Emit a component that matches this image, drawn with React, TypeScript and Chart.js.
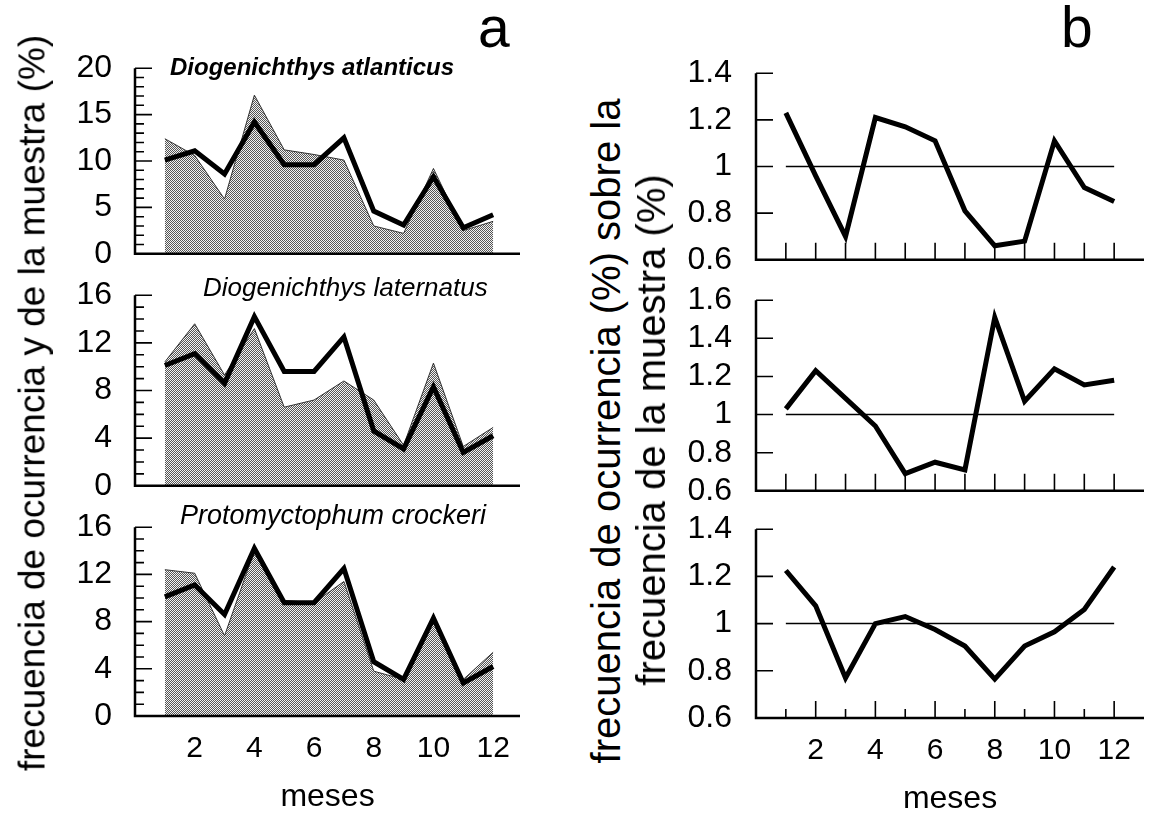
import React, { useEffect, useRef } from "react";
import { Chart, registerables } from "chart.js";

Chart.register(...registerables);

const FONT = "'Liberation Sans', Arial, Helvetica, sans-serif";

// ---------- data ----------
const months = [1, 2, 3, 4, 5, 6, 7, 8, 9, 10, 11, 12];
const monthTickLabels = [2, 4, 6, 8, 10, 12];

// frecuencia de la muestra (%) – thick line, same in the three panels of (a)
const sampleFreq = [10.1, 11.1, 8.6, 14.2, 9.6, 9.6, 12.5, 4.6, 3.1, 8.3, 2.8, 4.2];

// frecuencia de ocurrencia (%) – shaded areas in (a)
const occAtlanticus = [12.4, 10.6, 5.9, 17.1, 11.2, 10.7, 10.1, 3.0, 2.2, 9.2, 2.5, 3.5];
const occLaternatus = [10.4, 13.6, 9.3, 13.2, 6.6, 7.2, 8.8, 7.2, 3.4, 10.3, 3.3, 4.9];
const occCrockeri = [12.4, 12.1, 6.8, 14.0, 9.8, 9.6, 11.4, 3.8, 3.1, 8.1, 3.1, 5.4];

// ratio ocurrencia / muestra – panels (b)
const ratioAtlanticus = [1.23, 0.96, 0.7, 1.21, 1.17, 1.11, 0.81, 0.66, 0.68, 1.11, 0.91, 0.85];
const ratioLaternatus = [1.03, 1.23, 1.085, 0.94, 0.69, 0.75, 0.71, 1.51, 1.07, 1.24, 1.155, 1.18];
const ratioCrockeri = [1.225, 1.075, 0.77, 1.0, 1.03, 0.975, 0.905, 0.765, 0.905, 0.965, 1.06, 1.24];

const refLevel = [1, 1];

const yTicksA1 = [0, 5, 10, 15, 20];
const yTicksA23 = [0, 4, 8, 12, 16];
const yTicksB13 = [0.6, 0.8, 1, 1.2, 1.4];
const yTicksB2 = [0.6, 0.8, 1, 1.2, 1.4, 1.6];

const speciesNames = ["Diogenichthys atlanticus", "Diogenichthys laternatus", "Protomyctophum crockeri"];
const yTitleA = "frecuencia de ocurrencia y de la muestra (%)";
const yTitleB1 = "frecuencia de ocurrencia (%) sobre la";
const yTitleB2 = "frecuencia de la muestra (%)";
const xTitle = "meses";

// ---------- plugin drawing inward ticks and axis lines ----------
const framePlugin = {
  id: "frame",
  afterDatasetsDraw(chart: any, _args: any, opts: any) {
    const { ctx, chartArea } = chart;
    const { left, right, top, bottom } = chartArea;
    const xs = chart.scales.x;
    const ys = chart.scales.y;
    ctx.save();
    ctx.strokeStyle = "#000";
    ctx.lineCap = "butt";
    ctx.lineWidth = 2.5;
    ctx.beginPath();
    ctx.moveTo(left, top);
    ctx.lineTo(left, bottom);
    ctx.lineTo(right, bottom);
    ctx.stroke();
    ctx.lineWidth = 1.6;
    ctx.beginPath();
    for (const v of opts.major) {
      const py = ys.getPixelForValue(v);
      ctx.moveTo(left, py);
      ctx.lineTo(left + opts.majorLen, py);
    }
    if (opts.minorStep) {
      for (let k = 0; ; k++) {
        const v = ys.min + k * opts.minorStep;
        if (v > ys.max + 1e-9) break;
        const py = ys.getPixelForValue(v);
        ctx.moveTo(left, py);
        ctx.lineTo(left + opts.minorLen, py);
      }
    }
    if (opts.xMarks) {
      for (const m of opts.xMarks) {
        const px = xs.getPixelForValue(m);
        const len = opts.altTicks && m % 2 === 1 ? opts.xShortLen : opts.xLen;
        ctx.moveTo(px, bottom);
        ctx.lineTo(px, bottom - len);
      }
    }
    ctx.stroke();
    ctx.restore();
  },
};

type Spec = {
  kind: "a" | "b";
  chartLeft: number;
  chartRight: number;
  chartTop: number;
  chartBottom: number;
  yAxisW: number;
  yPad: number;
  xMax: number;
  yMin: number;
  yMax: number;
  yTicks: number[];
  bottom: boolean;
  area?: number[];
  line: number[];
  minorStep?: number;
  altTicks?: boolean;
};

const Y_FONT = 32;
const X_AXIS_H = 100;
const PAD_RIGHT = 12;
const PAD_BOTTOM_LAST = 5;

function geometry(s: Spec) {
  const off = Math.round(Y_FONT * 0.6 + s.yPad);
  const x = s.chartLeft - s.yAxisW;
  const w = s.yAxisW + (s.chartRight - s.chartLeft) + PAD_RIGHT;
  const y = s.chartTop - off;
  const h = s.bottom
    ? off + (s.chartBottom - s.chartTop) + X_AXIS_H + PAD_BOTTOM_LAST
    : off + (s.chartBottom - s.chartTop) + off;
  return { x, y, w, h };
}

function makePattern(): CanvasPattern | string {
  const c = document.createElement("canvas");
  c.width = 4;
  c.height = 4;
  const g = c.getContext("2d");
  if (!g) return "#999";
  g.fillStyle = "#f2f2f2";
  g.fillRect(0, 0, 4, 4);
  g.fillStyle = "#555555";
  for (let yy = 0; yy < 4; yy++) {
    for (let xx = 0; xx < 4; xx++) {
      if ((xx + yy) % 2 === 0) g.fillRect(xx, yy, 1, 1);
    }
  }
  const p = g.createPattern(c, "repeat");
  return p || "#999";
}

function buildConfig(s: Spec): any {
  const datasets: any[] = [];
  datasets.push({
    data: months.map((m, i) => ({ x: m, y: s.line[i] })),
    borderColor: "#000",
    borderWidth: 5,
    borderJoinStyle: "miter",
    pointRadius: 0,
    fill: false,
    tension: 0,
    order: 0,
  });
  if (s.kind === "a") {
    datasets.push({
      data: months.map((m, i) => ({ x: m, y: (s.area as number[])[i] })),
      borderColor: "#333",
      borderWidth: 1,
      backgroundColor: makePattern(),
      fill: "origin",
      pointRadius: 0,
      tension: 0,
      order: 1,
    });
  } else {
    datasets.push({
      data: [
        { x: months[0], y: refLevel[0] },
        { x: months[months.length - 1], y: refLevel[1] },
      ],
      borderColor: "#000",
      borderWidth: 1.5,
      pointRadius: 0,
      fill: false,
      order: 1,
    });
  }

  return {
    type: "line",
    data: { datasets },
    plugins: [framePlugin],
    options: {
      animation: false,
      responsive: false,
      events: [],
      layout: { padding: { top: 0, bottom: s.bottom ? PAD_BOTTOM_LAST : 0, left: 0, right: PAD_RIGHT } },
      plugins: {
        legend: { display: false },
        tooltip: { enabled: false },
        frame: {
          major: s.yTicks,
          majorLen: 17,
          minorStep: s.minorStep,
          minorLen: 9,
          xMarks: s.kind === "b" ? months : null,
          xLen: 17,
          xShortLen: 9,
          altTicks: !!s.altTicks,
        },
      },
      scales: {
        x: {
          type: "linear",
          min: 0,
          max: s.xMax,
          display: s.bottom,
          grid: { display: false, drawTicks: false, tickLength: 0 },
          border: { display: false },
          ticks: {
            font: { family: FONT, size: 30 },
            color: "#000",
            padding: 15,
            autoSkip: false,
            maxRotation: 0,
            callback: (v: any) => String(v),
          },
          afterBuildTicks: (sc: any) => {
            sc.ticks = monthTickLabels.map((v) => ({ value: v }));
          },
          afterFit: (sc: any) => {
            sc.height = s.bottom ? X_AXIS_H : 0;
          },
          title: {
            display: true,
            text: xTitle,
            font: { family: FONT, size: 32 },
            color: "#000",
            padding: { top: 0, bottom: 0 },
          },
        },
        y: {
          type: "linear",
          min: s.yMin,
          max: s.yMax,
          grid: { display: false, drawTicks: false, tickLength: 0 },
          border: { display: false },
          ticks: {
            font: { family: FONT, size: Y_FONT },
            color: "#000",
            padding: s.yPad,
            autoSkip: false,
            callback: (v: any) => String(v),
          },
          afterBuildTicks: (sc: any) => {
            sc.ticks = s.yTicks.map((v) => ({ value: v }));
          },
          afterFit: (sc: any) => {
            sc.width = s.yAxisW;
          },
        },
      },
    },
  };
}

function Panel({ spec }: { spec: Spec }) {
  const ref = useRef<HTMLCanvasElement>(null);
  const g = geometry(spec);
  useEffect(() => {
    if (!ref.current) return;
    const chart = new Chart(ref.current, buildConfig(spec));
    return () => chart.destroy();
  }, []);
  return (
    <canvas
      ref={ref}
      width={g.w}
      height={g.h}
      style={{ position: "absolute", left: g.x, top: g.y, width: g.w, height: g.h }}
    />
  );
}

// layout (pixels) – not data
const specs: Spec[] = [
  {
    kind: "a", chartLeft: 135, chartRight: 520, chartTop: 68, chartBottom: 254, yAxisW: 95, yPad: 23,
    xMax: 12.9, yMin: 0, yMax: 20, yTicks: yTicksA1, bottom: false, area: occAtlanticus, line: sampleFreq, minorStep: 1,
  },
  {
    kind: "a", chartLeft: 135, chartRight: 520, chartTop: 295, chartBottom: 486, yAxisW: 95, yPad: 23,
    xMax: 12.9, yMin: 0, yMax: 16, yTicks: yTicksA23, bottom: false, area: occLaternatus, line: sampleFreq, minorStep: 1,
  },
  {
    kind: "a", chartLeft: 135, chartRight: 520, chartTop: 527, chartBottom: 716, yAxisW: 95, yPad: 23,
    xMax: 12.9, yMin: 0, yMax: 16, yTicks: yTicksA23, bottom: true, area: occCrockeri, line: sampleFreq, minorStep: 1,
  },
  {
    kind: "b", chartLeft: 756, chartRight: 1144, chartTop: 73, chartBottom: 260, yAxisW: 95, yPad: 24,
    xMax: 13, yMin: 0.6, yMax: 1.4, yTicks: yTicksB13, bottom: false, line: ratioAtlanticus,
  },
  {
    kind: "b", chartLeft: 756, chartRight: 1144, chartTop: 300, chartBottom: 491, yAxisW: 95, yPad: 24,
    xMax: 13, yMin: 0.6, yMax: 1.6, yTicks: yTicksB2, bottom: false, line: ratioLaternatus,
  },
  {
    kind: "b", chartLeft: 756, chartRight: 1144, chartTop: 529, chartBottom: 718, yAxisW: 95, yPad: 24,
    xMax: 13, yMin: 0.6, yMax: 1.4, yTicks: yTicksB13, bottom: true, line: ratioCrockeri, altTicks: true,
  },
];

function RotText({ text, cx, cy, size }: { text: string; cx: number; cy: number; size: number }) {
  return (
    <div
      style={{
        position: "absolute",
        left: cx,
        top: cy,
        transform: "translate(-50%, -50%) rotate(-90deg)",
        whiteSpace: "nowrap",
        fontFamily: FONT,
        fontSize: size,
        lineHeight: `${size}px`,
        color: "#000",
      }}
    >
      {text}
    </div>
  );
}

function Label({
  text, left, baseline, size, italic, bold,
}: { text: string; left: number; baseline: number; size: number; italic?: boolean; bold?: boolean }) {
  return (
    <div
      style={{
        position: "absolute",
        left,
        top: baseline - 0.8465 * size,
        whiteSpace: "nowrap",
        fontFamily: FONT,
        fontSize: size,
        lineHeight: `${size}px`,
        fontStyle: italic ? "italic" : "normal",
        fontWeight: bold ? 700 : 400,
        color: "#000",
      }}
    >
      {text}
    </div>
  );
}

export default function App() {
  return (
    <div
      style={{
        position: "absolute",
        left: 0,
        top: 0,
        width: 1154,
        height: 829,
        overflow: "hidden",
        background: "#fff",
      }}
    >
      {specs.map((s, i) => (
        <Panel key={i} spec={s} />
      ))}
      <Label text="a" left={478} baseline={47} size={57} />
      <Label text="b" left={1061} baseline={47} size={57} />
      <Label text={speciesNames[0]} left={170} baseline={75} size={24} italic bold />
      <Label text={speciesNames[1]} left={203} baseline={296} size={26} italic />
      <Label text={speciesNames[2]} left={180} baseline={525} size={27} italic />
      <RotText text={yTitleA} cx={32} cy={403} size={37} />
      <RotText text={yTitleB1} cx={606} cy={431} size={40} />
      <RotText text={yTitleB2} cx={651} cy={430} size={40} />
    </div>
  );
}
